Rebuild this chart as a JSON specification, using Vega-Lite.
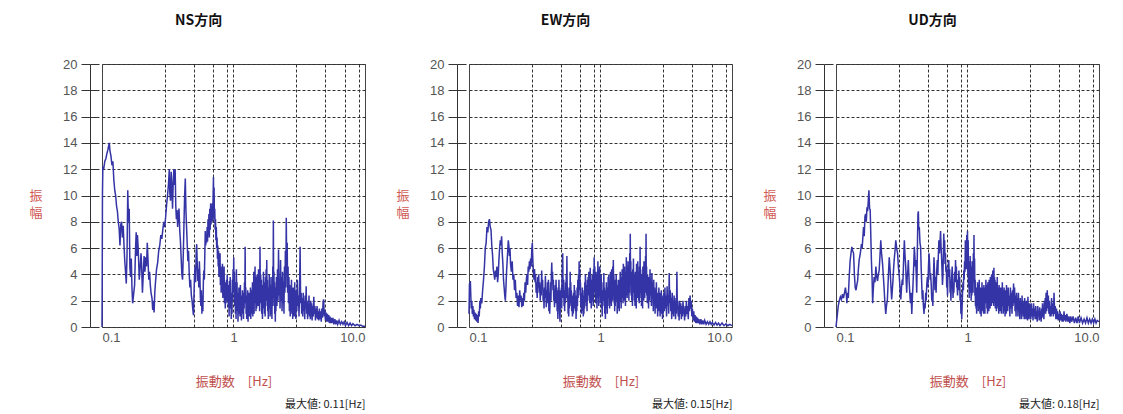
{
"$schema":"https://vega.github.io/schema/vega-lite/v6.json",
"background":"white",
"padding":{"left":28,"top":13,"right":5,"bottom":5},
"bounds":"flush",
"spacing":104,
"config":{
 "view":{"stroke":"#444","strokeWidth":1},
 "font":"Liberation Sans",
 "title":{"font":"Noto Sans CJK JP","fontSize":14,"fontWeight":"bold","color":"#111"}
},
"datasets":{
"NS":[{"f":0.1,"a":0},{"f":0.1004,"a":3.8},{"f":0.1008,"a":10},{"f":0.1015,"a":12.2},{"f":0.103,"a":12.0},{"f":0.105,"a":12.6},{"f":0.107,"a":12.8},{"f":0.109,"a":13.2},{"f":0.111,"a":13.5},{"f":0.1135,"a":14.0},{"f":0.115,"a":13.4},{"f":0.117,"a":13.0},{"f":0.119,"a":12.3},{"f":0.121,"a":12.6},{"f":0.123,"a":11.2},{"f":0.125,"a":10.4},{"f":0.127,"a":10.0},{"f":0.129,"a":9.2},{"f":0.131,"a":8.8},{"f":0.133,"a":8.0},{"f":0.135,"a":7.5},{"f":0.137,"a":6.2},{"f":0.139,"a":7.8},{"f":0.141,"a":8.0},{"f":0.143,"a":6.8},{"f":0.145,"a":7.7},{"f":0.147,"a":6.2},{"f":0.149,"a":5.0},{"f":0.151,"a":4.2},{"f":0.153,"a":3.3},{"f":0.155,"a":5.5},{"f":0.157,"a":10.4},{"f":0.159,"a":8.0},{"f":0.161,"a":9.0},{"f":0.163,"a":4.5},{"f":0.165,"a":3.8},{"f":0.167,"a":5.2},{"f":0.169,"a":3.0},{"f":0.171,"a":1.8},{"f":0.174,"a":2.5},{"f":0.177,"a":3.2},{"f":0.18,"a":6.0},{"f":0.182,"a":7.2},{"f":0.184,"a":5.4},{"f":0.186,"a":7.0},{"f":0.188,"a":6.2},{"f":0.19,"a":5.0},{"f":0.192,"a":3.6},{"f":0.195,"a":4.5},{"f":0.198,"a":5.6},{"f":0.2,"a":4.8},{"f":0.203,"a":2.6},{"f":0.206,"a":4.0},{"f":0.209,"a":5.4},{"f":0.212,"a":4.2},{"f":0.215,"a":5.3},{"f":0.218,"a":4.6},{"f":0.221,"a":6.4},{"f":0.224,"a":5.0},{"f":0.227,"a":3.6},{"f":0.23,"a":4.2},{"f":0.233,"a":3.2},{"f":0.236,"a":2.6},{"f":0.24,"a":2.2},{"f":0.243,"a":1.3},{"f":0.246,"a":2.0},{"f":0.249,"a":1.1},{"f":0.252,"a":2.6},{"f":0.256,"a":3.6},{"f":0.26,"a":4.4},{"f":0.265,"a":4.9},{"f":0.27,"a":5.8},{"f":0.275,"a":6.2},{"f":0.28,"a":7.0},{"f":0.285,"a":6.7},{"f":0.29,"a":7.4},{"f":0.295,"a":8.0},{"f":0.3,"a":7.6},{"f":0.305,"a":8.4},{"f":0.31,"a":9.3},{"f":0.315,"a":10.0},{"f":0.32,"a":10.8},{"f":0.325,"a":12.0},{"f":0.328,"a":10.2},{"f":0.332,"a":9.6},{"f":0.336,"a":11.8},{"f":0.34,"a":10.5},{"f":0.344,"a":9.0},{"f":0.348,"a":11.0},{"f":0.352,"a":12.0},{"f":0.356,"a":10.8},{"f":0.36,"a":12.0},{"f":0.364,"a":9.2},{"f":0.368,"a":8.2},{"f":0.372,"a":8.9},{"f":0.376,"a":7.6},{"f":0.38,"a":8.4},{"f":0.385,"a":9.0},{"f":0.39,"a":7.4},{"f":0.395,"a":6.5},{"f":0.4,"a":5.2},{"f":0.405,"a":4.0},{"f":0.41,"a":3.6},{"f":0.415,"a":5.5},{"f":0.42,"a":7.8},{"f":0.425,"a":10.0},{"f":0.43,"a":11.3},{"f":0.435,"a":8.8},{"f":0.44,"a":7.5},{"f":0.445,"a":6.2},{"f":0.45,"a":5.0},{"f":0.455,"a":5.8},{"f":0.46,"a":4.2},{"f":0.466,"a":3.0},{"f":0.472,"a":3.6},{"f":0.478,"a":2.4},{"f":0.484,"a":2.0},{"f":0.49,"a":1.4},{"f":0.496,"a":0.9},{"f":0.5,"a":2.2},{"f":0.505,"a":3.8},{"f":0.51,"a":4.6},{"f":0.515,"a":3.4},{"f":0.52,"a":5.6},{"f":0.525,"a":6.3},{"f":0.53,"a":4.8},{"f":0.535,"a":3.5},{"f":0.54,"a":4.4},{"f":0.545,"a":3.0},{"f":0.55,"a":5.0},{"f":0.555,"a":3.9},{"f":0.56,"a":2.2},{"f":0.565,"a":1.6},{"f":0.57,"a":2.8},{"f":0.575,"a":1.0},{"f":0.58,"a":2.4},{"f":0.585,"a":1.2},{"f":0.59,"a":3.4},{"f":0.595,"a":4.3},{"f":0.6,"a":3.6},{"f":0.605,"a":5.5},{"f":0.61,"a":7.3},{"f":0.615,"a":6.2},{"f":0.62,"a":7.0},{"f":0.625,"a":6.4},{"f":0.63,"a":7.6},{"f":0.635,"a":6.5},{"f":0.64,"a":8.2},{"f":0.645,"a":7.0},{"f":0.65,"a":8.6},{"f":0.655,"a":6.8},{"f":0.66,"a":9.0},{"f":0.665,"a":7.4},{"f":0.67,"a":9.4},{"f":0.675,"a":7.8},{"f":0.68,"a":9.0},{"f":0.685,"a":8.2},{"f":0.69,"a":9.4},{"f":0.695,"a":8.0},{"f":0.7,"a":10.0},{"f":0.704,"a":11.4},{"f":0.708,"a":9.2},{"f":0.712,"a":10.6},{"f":0.716,"a":8.2},{"f":0.72,"a":9.0},{"f":0.725,"a":7.4},{"f":0.73,"a":8.2},{"f":0.735,"a":6.6},{"f":0.74,"a":7.6},{"f":0.745,"a":6.0},{"f":0.75,"a":6.8},{"f":0.755,"a":5.2},{"f":0.76,"a":6.2},{"f":0.765,"a":4.6},{"f":0.77,"a":5.8},{"f":0.775,"a":3.8},{"f":0.78,"a":5.2},{"f":0.785,"a":4.0},{"f":0.79,"a":5.6},{"f":0.795,"a":3.2},{"f":0.8,"a":4.6},{"f":0.806,"a":2.6},{"f":0.812,"a":4.2},{"f":0.818,"a":3.0},{"f":0.824,"a":4.8},{"f":0.83,"a":2.2},{"f":0.836,"a":3.6},{"f":0.842,"a":2.4},{"f":0.848,"a":4.6},{"f":0.854,"a":1.8},{"f":0.86,"a":3.4},{"f":0.866,"a":1.4},{"f":0.872,"a":3.0},{"f":0.878,"a":1.8},{"f":0.884,"a":3.6},{"f":0.89,"a":2.0},{"f":0.896,"a":4.0},{"f":0.902,"a":2.4},{"f":0.908,"a":3.2},{"f":0.914,"a":1.5},{"f":0.92,"a":2.8},{"f":0.926,"a":0.8},{"f":0.932,"a":3.5},{"f":0.938,"a":2.0},{"f":0.944,"a":3.8},{"f":0.95,"a":1.4},{"f":0.956,"a":2.6},{"f":0.962,"a":0.6},{"f":0.968,"a":2.2},{"f":0.974,"a":1.0},{"f":0.98,"a":3.6},{"f":0.986,"a":2.0},{"f":0.992,"a":4.4},{"f":0.998,"a":2.6},{"f":1.004,"a":5.3},{"f":1.01,"a":3.0},{"f":1.016,"a":4.2},{"f":1.022,"a":1.6},{"f":1.028,"a":3.4},{"f":1.034,"a":1.0},{"f":1.04,"a":2.8},{"f":1.046,"a":0.6},{"f":1.052,"a":4.4},{"f":1.058,"a":2.2},{"f":1.064,"a":3.4},{"f":1.07,"a":1.2},{"f":1.076,"a":2.6},{"f":1.082,"a":0.4},{"f":1.088,"a":2.0},{"f":1.094,"a":1.0},{"f":1.1,"a":3.0},{"f":1.107,"a":1.4},{"f":1.114,"a":2.6},{"f":1.121,"a":0.8},{"f":1.128,"a":3.2},{"f":1.135,"a":1.6},{"f":1.142,"a":2.4},{"f":1.149,"a":0.5},{"f":1.156,"a":2.2},{"f":1.163,"a":1.0},{"f":1.17,"a":2.8},{"f":1.177,"a":1.2},{"f":1.184,"a":2.0},{"f":1.191,"a":0.6},{"f":1.198,"a":2.6},{"f":1.205,"a":1.4},{"f":1.212,"a":3.4},{"f":1.219,"a":1.8},{"f":1.226,"a":6.1},{"f":1.233,"a":2.0},{"f":1.24,"a":3.0},{"f":1.247,"a":1.0},{"f":1.254,"a":2.4},{"f":1.261,"a":0.6},{"f":1.268,"a":2.0},{"f":1.275,"a":1.2},{"f":1.282,"a":2.8},{"f":1.29,"a":0.4},{"f":1.298,"a":2.2},{"f":1.306,"a":1.0},{"f":1.314,"a":2.6},{"f":1.322,"a":0.8},{"f":1.33,"a":2.0},{"f":1.338,"a":1.4},{"f":1.346,"a":3.0},{"f":1.354,"a":0.6},{"f":1.362,"a":2.2},{"f":1.37,"a":1.0},{"f":1.378,"a":2.8},{"f":1.386,"a":1.4},{"f":1.394,"a":3.4},{"f":1.402,"a":0.8},{"f":1.41,"a":2.4},{"f":1.418,"a":1.6},{"f":1.426,"a":4.2},{"f":1.434,"a":1.0},{"f":1.442,"a":3.0},{"f":1.45,"a":1.8},{"f":1.458,"a":4.6},{"f":1.466,"a":2.0},{"f":1.474,"a":3.2},{"f":1.482,"a":1.2},{"f":1.49,"a":3.8},{"f":1.5,"a":1.4},{"f":1.51,"a":4.0},{"f":1.52,"a":2.2},{"f":1.53,"a":3.4},{"f":1.54,"a":1.6},{"f":1.55,"a":4.4},{"f":1.56,"a":2.0},{"f":1.57,"a":3.0},{"f":1.58,"a":1.2},{"f":1.59,"a":6.1},{"f":1.6,"a":2.6},{"f":1.61,"a":4.0},{"f":1.62,"a":1.8},{"f":1.63,"a":3.6},{"f":1.64,"a":1.0},{"f":1.65,"a":2.8},{"f":1.66,"a":0.6},{"f":1.67,"a":3.2},{"f":1.68,"a":1.4},{"f":1.69,"a":4.2},{"f":1.7,"a":2.0},{"f":1.71,"a":3.4},{"f":1.72,"a":1.0},{"f":1.73,"a":2.6},{"f":1.74,"a":0.8},{"f":1.75,"a":3.8},{"f":1.76,"a":1.6},{"f":1.77,"a":4.4},{"f":1.78,"a":2.0},{"f":1.79,"a":5.1},{"f":1.8,"a":2.4},{"f":1.81,"a":3.6},{"f":1.82,"a":1.2},{"f":1.83,"a":2.8},{"f":1.84,"a":0.6},{"f":1.85,"a":3.0},{"f":1.86,"a":1.4},{"f":1.87,"a":4.0},{"f":1.88,"a":1.8},{"f":1.89,"a":3.2},{"f":1.9,"a":0.8},{"f":1.91,"a":2.6},{"f":1.92,"a":1.4},{"f":1.93,"a":3.8},{"f":1.94,"a":1.0},{"f":1.95,"a":2.4},{"f":1.96,"a":0.6},{"f":1.97,"a":3.0},{"f":1.98,"a":1.6},{"f":1.99,"a":4.6},{"f":2.0,"a":2.2},{"f":2.01,"a":8.1},{"f":2.02,"a":3.0},{"f":2.03,"a":4.2},{"f":2.04,"a":1.6},{"f":2.05,"a":3.4},{"f":2.06,"a":1.0},{"f":2.07,"a":2.6},{"f":2.08,"a":0.4},{"f":2.09,"a":3.0},{"f":2.1,"a":1.2},{"f":2.12,"a":3.8},{"f":2.14,"a":1.6},{"f":2.16,"a":4.4},{"f":2.18,"a":2.0},{"f":2.2,"a":5.9},{"f":2.22,"a":2.4},{"f":2.24,"a":3.6},{"f":2.26,"a":1.4},{"f":2.28,"a":5.1},{"f":2.3,"a":2.0},{"f":2.32,"a":3.8},{"f":2.34,"a":1.2},{"f":2.36,"a":4.2},{"f":2.38,"a":1.8},{"f":2.4,"a":3.4},{"f":2.42,"a":1.0},{"f":2.44,"a":4.6},{"f":2.46,"a":2.6},{"f":2.48,"a":5.8},{"f":2.5,"a":3.0},{"f":2.52,"a":8.3},{"f":2.54,"a":4.0},{"f":2.56,"a":6.4},{"f":2.58,"a":2.6},{"f":2.6,"a":4.6},{"f":2.62,"a":1.8},{"f":2.64,"a":3.8},{"f":2.66,"a":1.2},{"f":2.68,"a":3.2},{"f":2.7,"a":0.8},{"f":2.72,"a":2.8},{"f":2.74,"a":1.4},{"f":2.76,"a":3.6},{"f":2.78,"a":1.0},{"f":2.8,"a":2.6},{"f":2.82,"a":0.6},{"f":2.84,"a":3.0},{"f":2.86,"a":1.2},{"f":2.88,"a":2.4},{"f":2.9,"a":0.8},{"f":2.92,"a":3.4},{"f":2.94,"a":1.4},{"f":2.96,"a":2.2},{"f":2.98,"a":0.6},{"f":3.0,"a":2.8},{"f":3.03,"a":1.2},{"f":3.06,"a":3.6},{"f":3.09,"a":1.6},{"f":3.12,"a":2.4},{"f":3.15,"a":0.8},{"f":3.18,"a":2.8},{"f":3.21,"a":6.1},{"f":3.24,"a":1.8},{"f":3.27,"a":2.6},{"f":3.3,"a":1.0},{"f":3.33,"a":2.2},{"f":3.36,"a":0.8},{"f":3.39,"a":2.6},{"f":3.42,"a":1.2},{"f":3.45,"a":2.0},{"f":3.48,"a":0.6},{"f":3.51,"a":2.4},{"f":3.54,"a":1.4},{"f":3.57,"a":3.1},{"f":3.6,"a":1.0},{"f":3.63,"a":2.0},{"f":3.66,"a":0.6},{"f":3.69,"a":1.8},{"f":3.72,"a":1.0},{"f":3.75,"a":2.4},{"f":3.78,"a":0.8},{"f":3.81,"a":1.6},{"f":3.84,"a":0.6},{"f":3.87,"a":2.0},{"f":3.9,"a":1.0},{"f":3.93,"a":1.8},{"f":3.96,"a":0.5},{"f":4.0,"a":1.6},{"f":4.04,"a":0.8},{"f":4.08,"a":2.3},{"f":4.12,"a":1.0},{"f":4.16,"a":1.6},{"f":4.2,"a":0.5},{"f":4.24,"a":1.4},{"f":4.28,"a":0.7},{"f":4.32,"a":1.6},{"f":4.36,"a":0.6},{"f":4.4,"a":1.2},{"f":4.45,"a":0.5},{"f":4.5,"a":1.4},{"f":4.55,"a":0.6},{"f":4.6,"a":1.2},{"f":4.65,"a":0.4},{"f":4.7,"a":1.4},{"f":4.75,"a":0.7},{"f":4.8,"a":1.9},{"f":4.85,"a":2.1},{"f":4.9,"a":0.8},{"f":4.95,"a":1.3},{"f":5.0,"a":0.5},{"f":5.06,"a":1.1},{"f":5.12,"a":0.4},{"f":5.18,"a":1.0},{"f":5.24,"a":0.4},{"f":5.3,"a":0.9},{"f":5.36,"a":0.3},{"f":5.42,"a":0.8},{"f":5.48,"a":0.3},{"f":5.54,"a":0.7},{"f":5.6,"a":0.3},{"f":5.7,"a":0.7},{"f":5.8,"a":0.2},{"f":5.9,"a":0.6},{"f":6.0,"a":0.2},{"f":6.1,"a":0.5},{"f":6.2,"a":0.2},{"f":6.35,"a":0.5},{"f":6.5,"a":0.2},{"f":6.65,"a":0.4},{"f":6.8,"a":0.2},{"f":6.95,"a":0.4},{"f":7.1,"a":0.1},{"f":7.3,"a":0.35},{"f":7.5,"a":0.1},{"f":7.7,"a":0.3},{"f":7.9,"a":0.1},{"f":8.1,"a":0.25},{"f":8.4,"a":0.1},{"f":8.7,"a":0.2},{"f":9.0,"a":0.1},{"f":9.3,"a":0.15},{"f":9.6,"a":0.05},{"f":10,"a":0.05}],
"EW":[{"f":0.1,"a":1.0},{"f":0.1008,"a":3.3},{"f":0.1016,"a":2.6},{"f":0.1024,"a":3.5},{"f":0.1032,"a":2.4},{"f":0.104,"a":1.4},{"f":0.105,"a":2.0},{"f":0.106,"a":1.0},{"f":0.107,"a":1.6},{"f":0.108,"a":0.8},{"f":0.109,"a":1.3},{"f":0.11,"a":0.6},{"f":0.1112,"a":1.1},{"f":0.1124,"a":0.5},{"f":0.1136,"a":1.0},{"f":0.1148,"a":0.4},{"f":0.116,"a":0.9},{"f":0.1172,"a":0.3},{"f":0.1184,"a":1.2},{"f":0.1196,"a":0.8},{"f":0.121,"a":2.0},{"f":0.122,"a":1.4},{"f":0.123,"a":2.2},{"f":0.125,"a":1.8},{"f":0.127,"a":2.8},{"f":0.129,"a":3.6},{"f":0.131,"a":4.6},{"f":0.133,"a":6.0},{"f":0.135,"a":6.4},{"f":0.137,"a":7.6},{"f":0.139,"a":7.2},{"f":0.141,"a":8.0},{"f":0.143,"a":8.2},{"f":0.145,"a":7.6},{"f":0.147,"a":7.4},{"f":0.149,"a":6.2},{"f":0.151,"a":5.5},{"f":0.153,"a":4.4},{"f":0.155,"a":4.0},{"f":0.157,"a":3.6},{"f":0.159,"a":4.3},{"f":0.161,"a":3.8},{"f":0.163,"a":4.6},{"f":0.165,"a":3.4},{"f":0.167,"a":4.0},{"f":0.169,"a":5.2},{"f":0.171,"a":6.0},{"f":0.173,"a":6.6},{"f":0.175,"a":6.2},{"f":0.177,"a":6.9},{"f":0.179,"a":5.6},{"f":0.181,"a":4.8},{"f":0.183,"a":3.6},{"f":0.185,"a":3.0},{"f":0.187,"a":2.4},{"f":0.189,"a":2.0},{"f":0.191,"a":3.0},{"f":0.193,"a":4.2},{"f":0.195,"a":5.0},{"f":0.197,"a":5.8},{"f":0.199,"a":6.6},{"f":0.201,"a":6.2},{"f":0.203,"a":5.4},{"f":0.205,"a":6.0},{"f":0.207,"a":4.8},{"f":0.21,"a":4.2},{"f":0.213,"a":5.0},{"f":0.216,"a":3.6},{"f":0.219,"a":4.0},{"f":0.222,"a":2.8},{"f":0.225,"a":3.6},{"f":0.228,"a":2.2},{"f":0.231,"a":2.6},{"f":0.234,"a":1.6},{"f":0.237,"a":2.4},{"f":0.24,"a":1.5},{"f":0.243,"a":2.8},{"f":0.246,"a":2.0},{"f":0.249,"a":2.4},{"f":0.252,"a":1.5},{"f":0.255,"a":2.2},{"f":0.258,"a":1.6},{"f":0.261,"a":2.6},{"f":0.264,"a":2.0},{"f":0.267,"a":3.4},{"f":0.27,"a":2.6},{"f":0.273,"a":3.6},{"f":0.276,"a":4.0},{"f":0.279,"a":3.2},{"f":0.282,"a":4.6},{"f":0.285,"a":4.2},{"f":0.288,"a":5.0},{"f":0.291,"a":4.4},{"f":0.294,"a":5.2},{"f":0.297,"a":4.6},{"f":0.3,"a":5.8},{"f":0.303,"a":6.4},{"f":0.306,"a":5.0},{"f":0.309,"a":4.2},{"f":0.312,"a":3.6},{"f":0.315,"a":4.4},{"f":0.318,"a":3.4},{"f":0.321,"a":4.0},{"f":0.324,"a":2.6},{"f":0.327,"a":3.4},{"f":0.33,"a":2.2},{"f":0.333,"a":3.8},{"f":0.336,"a":3.0},{"f":0.339,"a":4.0},{"f":0.342,"a":2.6},{"f":0.345,"a":3.4},{"f":0.348,"a":2.0},{"f":0.351,"a":3.2},{"f":0.354,"a":2.4},{"f":0.357,"a":4.3},{"f":0.36,"a":3.0},{"f":0.363,"a":3.6},{"f":0.366,"a":2.0},{"f":0.369,"a":2.8},{"f":0.372,"a":1.4},{"f":0.375,"a":3.0},{"f":0.378,"a":2.2},{"f":0.381,"a":3.9},{"f":0.384,"a":2.6},{"f":0.387,"a":1.5},{"f":0.39,"a":2.8},{"f":0.393,"a":1.8},{"f":0.396,"a":3.4},{"f":0.399,"a":2.4},{"f":0.402,"a":3.6},{"f":0.405,"a":1.2},{"f":0.408,"a":2.6},{"f":0.411,"a":1.0},{"f":0.414,"a":2.2},{"f":0.417,"a":3.4},{"f":0.42,"a":2.0},{"f":0.423,"a":4.0},{"f":0.426,"a":4.9},{"f":0.429,"a":3.6},{"f":0.432,"a":4.2},{"f":0.435,"a":2.8},{"f":0.438,"a":3.6},{"f":0.441,"a":2.0},{"f":0.444,"a":2.6},{"f":0.447,"a":1.5},{"f":0.45,"a":2.4},{"f":0.453,"a":3.2},{"f":0.456,"a":1.8},{"f":0.459,"a":3.6},{"f":0.462,"a":2.4},{"f":0.465,"a":3.0},{"f":0.468,"a":1.2},{"f":0.471,"a":2.2},{"f":0.474,"a":0.6},{"f":0.477,"a":2.8},{"f":0.48,"a":1.6},{"f":0.483,"a":3.6},{"f":0.486,"a":2.0},{"f":0.489,"a":1.0},{"f":0.492,"a":0.4},{"f":0.495,"a":1.8},{"f":0.498,"a":2.8},{"f":0.501,"a":1.5},{"f":0.504,"a":3.0},{"f":0.507,"a":1.4},{"f":0.51,"a":3.6},{"f":0.513,"a":4.4},{"f":0.516,"a":5.6},{"f":0.519,"a":3.4},{"f":0.522,"a":2.2},{"f":0.525,"a":3.6},{"f":0.528,"a":1.6},{"f":0.531,"a":2.6},{"f":0.534,"a":1.2},{"f":0.537,"a":2.8},{"f":0.54,"a":1.8},{"f":0.543,"a":3.4},{"f":0.546,"a":2.2},{"f":0.549,"a":4.0},{"f":0.552,"a":2.6},{"f":0.555,"a":5.4},{"f":0.558,"a":3.2},{"f":0.561,"a":2.0},{"f":0.564,"a":3.0},{"f":0.567,"a":1.0},{"f":0.57,"a":2.4},{"f":0.573,"a":0.8},{"f":0.576,"a":2.2},{"f":0.579,"a":1.4},{"f":0.582,"a":3.0},{"f":0.585,"a":1.6},{"f":0.588,"a":4.2},{"f":0.591,"a":2.6},{"f":0.594,"a":3.4},{"f":0.597,"a":1.8},{"f":0.6,"a":2.8},{"f":0.604,"a":1.2},{"f":0.608,"a":2.4},{"f":0.612,"a":0.8},{"f":0.616,"a":2.0},{"f":0.62,"a":1.0},{"f":0.624,"a":2.6},{"f":0.628,"a":1.4},{"f":0.632,"a":3.2},{"f":0.636,"a":1.8},{"f":0.64,"a":2.8},{"f":0.644,"a":1.2},{"f":0.648,"a":2.4},{"f":0.652,"a":0.6},{"f":0.656,"a":2.0},{"f":0.66,"a":1.2},{"f":0.664,"a":3.0},{"f":0.668,"a":1.6},{"f":0.672,"a":3.6},{"f":0.676,"a":2.2},{"f":0.68,"a":4.0},{"f":0.684,"a":2.8},{"f":0.688,"a":5.0},{"f":0.692,"a":3.2},{"f":0.696,"a":4.4},{"f":0.7,"a":2.4},{"f":0.704,"a":3.4},{"f":0.708,"a":1.6},{"f":0.712,"a":2.6},{"f":0.716,"a":1.0},{"f":0.72,"a":2.4},{"f":0.724,"a":1.2},{"f":0.728,"a":3.0},{"f":0.732,"a":1.6},{"f":0.736,"a":2.4},{"f":0.74,"a":0.8},{"f":0.744,"a":2.0},{"f":0.748,"a":1.0},{"f":0.752,"a":2.8},{"f":0.756,"a":1.4},{"f":0.76,"a":3.4},{"f":0.764,"a":2.0},{"f":0.768,"a":4.0},{"f":0.772,"a":2.6},{"f":0.776,"a":3.2},{"f":0.78,"a":1.6},{"f":0.785,"a":2.6},{"f":0.79,"a":1.2},{"f":0.795,"a":3.6},{"f":0.8,"a":2.0},{"f":0.805,"a":3.8},{"f":0.81,"a":2.4},{"f":0.815,"a":4.2},{"f":0.82,"a":2.8},{"f":0.825,"a":3.6},{"f":0.83,"a":1.8},{"f":0.835,"a":4.5},{"f":0.84,"a":2.6},{"f":0.845,"a":3.6},{"f":0.85,"a":1.4},{"f":0.855,"a":3.0},{"f":0.86,"a":2.0},{"f":0.865,"a":4.0},{"f":0.87,"a":2.4},{"f":0.875,"a":3.4},{"f":0.88,"a":1.6},{"f":0.885,"a":4.4},{"f":0.89,"a":2.8},{"f":0.895,"a":5.3},{"f":0.9,"a":3.0},{"f":0.905,"a":4.6},{"f":0.91,"a":2.4},{"f":0.915,"a":3.8},{"f":0.92,"a":1.8},{"f":0.925,"a":4.2},{"f":0.93,"a":2.6},{"f":0.935,"a":3.6},{"f":0.94,"a":1.4},{"f":0.945,"a":4.0},{"f":0.95,"a":2.2},{"f":0.955,"a":5.0},{"f":0.96,"a":3.0},{"f":0.965,"a":4.4},{"f":0.97,"a":1.6},{"f":0.975,"a":3.6},{"f":0.98,"a":2.4},{"f":0.985,"a":4.6},{"f":0.99,"a":2.8},{"f":0.995,"a":4.0},{"f":1.0,"a":1.8},{"f":1.006,"a":3.2},{"f":1.012,"a":4.0},{"f":1.018,"a":1.4},{"f":1.024,"a":2.8},{"f":1.03,"a":0.8},{"f":1.036,"a":2.6},{"f":1.042,"a":1.6},{"f":1.048,"a":3.4},{"f":1.054,"a":2.0},{"f":1.06,"a":4.1},{"f":1.066,"a":2.2},{"f":1.072,"a":3.0},{"f":1.078,"a":1.0},{"f":1.084,"a":2.4},{"f":1.09,"a":0.6},{"f":1.096,"a":2.8},{"f":1.102,"a":1.4},{"f":1.108,"a":3.4},{"f":1.114,"a":1.8},{"f":1.12,"a":2.6},{"f":1.126,"a":1.0},{"f":1.132,"a":3.0},{"f":1.138,"a":1.6},{"f":1.144,"a":3.8},{"f":1.15,"a":2.2},{"f":1.156,"a":4.0},{"f":1.162,"a":2.6},{"f":1.168,"a":3.4},{"f":1.174,"a":1.4},{"f":1.18,"a":3.0},{"f":1.186,"a":1.8},{"f":1.192,"a":4.2},{"f":1.198,"a":2.4},{"f":1.204,"a":3.6},{"f":1.21,"a":1.6},{"f":1.216,"a":4.4},{"f":1.222,"a":2.8},{"f":1.228,"a":3.6},{"f":1.234,"a":2.0},{"f":1.24,"a":4.6},{"f":1.246,"a":3.0},{"f":1.252,"a":5.1},{"f":1.258,"a":2.6},{"f":1.264,"a":4.0},{"f":1.27,"a":1.8},{"f":1.276,"a":3.4},{"f":1.282,"a":1.2},{"f":1.288,"a":3.0},{"f":1.294,"a":1.6},{"f":1.3,"a":3.6},{"f":1.308,"a":2.0},{"f":1.316,"a":4.0},{"f":1.324,"a":2.2},{"f":1.332,"a":3.2},{"f":1.34,"a":1.0},{"f":1.348,"a":2.8},{"f":1.356,"a":1.4},{"f":1.364,"a":3.6},{"f":1.372,"a":1.8},{"f":1.38,"a":3.0},{"f":1.388,"a":1.2},{"f":1.396,"a":3.6},{"f":1.404,"a":2.0},{"f":1.412,"a":4.2},{"f":1.42,"a":2.4},{"f":1.428,"a":3.4},{"f":1.436,"a":1.4},{"f":1.444,"a":3.8},{"f":1.452,"a":2.2},{"f":1.46,"a":4.4},{"f":1.468,"a":2.6},{"f":1.476,"a":3.6},{"f":1.484,"a":1.8},{"f":1.492,"a":4.8},{"f":1.5,"a":2.8},{"f":1.508,"a":4.0},{"f":1.516,"a":2.0},{"f":1.524,"a":4.6},{"f":1.532,"a":2.6},{"f":1.54,"a":3.6},{"f":1.548,"a":1.6},{"f":1.556,"a":4.2},{"f":1.564,"a":2.4},{"f":1.572,"a":5.3},{"f":1.58,"a":3.0},{"f":1.588,"a":4.6},{"f":1.596,"a":2.2},{"f":1.604,"a":4.0},{"f":1.612,"a":2.6},{"f":1.62,"a":5.0},{"f":1.628,"a":3.0},{"f":1.636,"a":4.4},{"f":1.644,"a":2.0},{"f":1.652,"a":3.8},{"f":1.66,"a":2.6},{"f":1.668,"a":5.6},{"f":1.676,"a":3.2},{"f":1.684,"a":7.1},{"f":1.692,"a":3.6},{"f":1.7,"a":5.0},{"f":1.71,"a":2.4},{"f":1.72,"a":4.2},{"f":1.73,"a":2.0},{"f":1.74,"a":3.6},{"f":1.75,"a":1.6},{"f":1.76,"a":4.4},{"f":1.77,"a":2.6},{"f":1.78,"a":5.2},{"f":1.79,"a":3.0},{"f":1.8,"a":4.0},{"f":1.81,"a":2.0},{"f":1.82,"a":3.4},{"f":1.83,"a":1.6},{"f":1.84,"a":4.2},{"f":1.85,"a":2.4},{"f":1.86,"a":3.6},{"f":1.87,"a":1.4},{"f":1.88,"a":4.8},{"f":1.89,"a":2.8},{"f":1.9,"a":4.0},{"f":1.91,"a":2.2},{"f":1.92,"a":5.0},{"f":1.93,"a":3.2},{"f":1.94,"a":4.2},{"f":1.95,"a":2.0},{"f":1.96,"a":3.6},{"f":1.97,"a":1.8},{"f":1.98,"a":4.6},{"f":1.99,"a":2.6},{"f":2.0,"a":6.1},{"f":2.01,"a":3.0},{"f":2.02,"a":4.4},{"f":2.03,"a":2.2},{"f":2.04,"a":3.8},{"f":2.05,"a":1.6},{"f":2.06,"a":4.0},{"f":2.07,"a":2.4},{"f":2.08,"a":3.4},{"f":2.09,"a":1.4},{"f":2.1,"a":4.6},{"f":2.11,"a":2.6},{"f":2.12,"a":3.6},{"f":2.13,"a":2.0},{"f":2.14,"a":5.0},{"f":2.15,"a":3.0},{"f":2.16,"a":4.2},{"f":2.17,"a":2.2},{"f":2.18,"a":3.8},{"f":2.19,"a":2.6},{"f":2.2,"a":5.4},{"f":2.21,"a":3.2},{"f":2.22,"a":7.1},{"f":2.23,"a":3.6},{"f":2.24,"a":4.6},{"f":2.25,"a":2.4},{"f":2.26,"a":3.6},{"f":2.27,"a":1.8},{"f":2.28,"a":4.0},{"f":2.29,"a":2.2},{"f":2.3,"a":3.2},{"f":2.32,"a":1.4},{"f":2.34,"a":3.8},{"f":2.36,"a":2.0},{"f":2.38,"a":4.4},{"f":2.4,"a":2.4},{"f":2.42,"a":3.6},{"f":2.44,"a":1.6},{"f":2.46,"a":4.1},{"f":2.48,"a":2.2},{"f":2.5,"a":3.4},{"f":2.52,"a":1.2},{"f":2.54,"a":3.6},{"f":2.56,"a":1.8},{"f":2.58,"a":3.0},{"f":2.6,"a":1.0},{"f":2.62,"a":2.8},{"f":2.64,"a":1.4},{"f":2.66,"a":3.4},{"f":2.68,"a":1.6},{"f":2.7,"a":2.6},{"f":2.72,"a":0.8},{"f":2.74,"a":2.4},{"f":2.76,"a":1.2},{"f":2.78,"a":3.0},{"f":2.8,"a":1.4},{"f":2.82,"a":2.6},{"f":2.84,"a":0.8},{"f":2.86,"a":2.2},{"f":2.88,"a":1.2},{"f":2.9,"a":2.8},{"f":2.92,"a":1.0},{"f":2.94,"a":2.4},{"f":2.96,"a":0.6},{"f":2.98,"a":2.0},{"f":3.0,"a":1.0},{"f":3.03,"a":2.6},{"f":3.06,"a":1.2},{"f":3.09,"a":3.0},{"f":3.12,"a":1.4},{"f":3.15,"a":2.4},{"f":3.18,"a":0.8},{"f":3.21,"a":3.1},{"f":3.24,"a":1.6},{"f":3.27,"a":2.4},{"f":3.3,"a":1.0},{"f":3.33,"a":4.1},{"f":3.36,"a":1.8},{"f":3.39,"a":2.8},{"f":3.42,"a":1.2},{"f":3.45,"a":2.2},{"f":3.48,"a":0.6},{"f":3.51,"a":2.6},{"f":3.54,"a":1.0},{"f":3.57,"a":2.0},{"f":3.6,"a":0.8},{"f":3.63,"a":2.4},{"f":3.66,"a":1.2},{"f":3.69,"a":1.8},{"f":3.72,"a":0.6},{"f":3.75,"a":2.2},{"f":3.78,"a":1.0},{"f":3.81,"a":4.2},{"f":3.84,"a":1.4},{"f":3.87,"a":2.0},{"f":3.9,"a":0.8},{"f":3.93,"a":1.6},{"f":3.96,"a":0.5},{"f":4.0,"a":2.0},{"f":4.04,"a":1.0},{"f":4.08,"a":1.8},{"f":4.12,"a":0.6},{"f":4.16,"a":1.6},{"f":4.2,"a":0.8},{"f":4.24,"a":2.0},{"f":4.28,"a":1.0},{"f":4.32,"a":1.4},{"f":4.36,"a":0.5},{"f":4.4,"a":1.6},{"f":4.45,"a":0.8},{"f":4.5,"a":2.0},{"f":4.55,"a":1.0},{"f":4.6,"a":1.6},{"f":4.65,"a":0.6},{"f":4.7,"a":2.2},{"f":4.75,"a":1.2},{"f":4.8,"a":2.4},{"f":4.85,"a":1.4},{"f":4.9,"a":2.0},{"f":4.95,"a":0.8},{"f":5.0,"a":1.4},{"f":5.06,"a":0.5},{"f":5.12,"a":1.2},{"f":5.18,"a":0.4},{"f":5.24,"a":0.9},{"f":5.3,"a":0.3},{"f":5.36,"a":0.8},{"f":5.42,"a":0.3},{"f":5.48,"a":0.7},{"f":5.54,"a":0.3},{"f":5.6,"a":0.6},{"f":5.7,"a":0.2},{"f":5.8,"a":0.6},{"f":5.9,"a":0.2},{"f":6.0,"a":0.5},{"f":6.1,"a":0.2},{"f":6.2,"a":0.5},{"f":6.35,"a":0.2},{"f":6.5,"a":0.4},{"f":6.65,"a":0.2},{"f":6.8,"a":0.4},{"f":6.95,"a":0.2},{"f":7.1,"a":0.35},{"f":7.3,"a":0.15},{"f":7.5,"a":0.35},{"f":7.7,"a":0.15},{"f":7.9,"a":0.3},{"f":8.1,"a":0.1},{"f":8.4,"a":0.3},{"f":8.7,"a":0.1},{"f":9.0,"a":0.25},{"f":9.3,"a":0.1},{"f":9.6,"a":0.2},{"f":10,"a":0.1}],
"UD":[{"f":0.1,"a":0},{"f":0.102,"a":0.8},{"f":0.104,"a":1.6},{"f":0.106,"a":2.0},{"f":0.108,"a":2.3},{"f":0.11,"a":2.1},{"f":0.112,"a":2.5},{"f":0.114,"a":2.2},{"f":0.116,"a":2.6},{"f":0.118,"a":3.0},{"f":0.12,"a":2.4},{"f":0.121,"a":1.8},{"f":0.122,"a":2.6},{"f":0.124,"a":2.2},{"f":0.126,"a":3.8},{"f":0.128,"a":5.0},{"f":0.13,"a":5.6},{"f":0.132,"a":6.1},{"f":0.134,"a":5.8},{"f":0.136,"a":5.6},{"f":0.138,"a":4.0},{"f":0.14,"a":3.0},{"f":0.142,"a":2.8},{"f":0.144,"a":3.2},{"f":0.146,"a":3.5},{"f":0.148,"a":4.4},{"f":0.15,"a":5.1},{"f":0.152,"a":5.4},{"f":0.154,"a":5.8},{"f":0.156,"a":6.3},{"f":0.158,"a":6.0},{"f":0.16,"a":6.8},{"f":0.162,"a":7.6},{"f":0.164,"a":6.9},{"f":0.166,"a":8.4},{"f":0.168,"a":8.6},{"f":0.17,"a":8.0},{"f":0.172,"a":9.1},{"f":0.174,"a":8.8},{"f":0.176,"a":9.6},{"f":0.178,"a":10.4},{"f":0.18,"a":9.0},{"f":0.182,"a":8.9},{"f":0.184,"a":6.9},{"f":0.186,"a":5.0},{"f":0.188,"a":3.8},{"f":0.19,"a":1.8},{"f":0.192,"a":2.8},{"f":0.195,"a":3.8},{"f":0.198,"a":3.4},{"f":0.201,"a":4.6},{"f":0.204,"a":3.8},{"f":0.207,"a":3.5},{"f":0.21,"a":4.0},{"f":0.213,"a":4.3},{"f":0.216,"a":5.4},{"f":0.219,"a":6.6},{"f":0.222,"a":5.6},{"f":0.226,"a":4.8},{"f":0.229,"a":3.9},{"f":0.232,"a":3.0},{"f":0.235,"a":2.0},{"f":0.239,"a":1.0},{"f":0.242,"a":1.6},{"f":0.246,"a":2.1},{"f":0.25,"a":3.8},{"f":0.254,"a":5.3},{"f":0.258,"a":4.3},{"f":0.262,"a":3.0},{"f":0.265,"a":2.1},{"f":0.268,"a":2.8},{"f":0.271,"a":3.5},{"f":0.274,"a":4.4},{"f":0.277,"a":5.1},{"f":0.281,"a":5.8},{"f":0.285,"a":6.6},{"f":0.289,"a":6.0},{"f":0.294,"a":5.6},{"f":0.298,"a":4.6},{"f":0.303,"a":3.8},{"f":0.307,"a":2.9},{"f":0.311,"a":2.1},{"f":0.315,"a":3.0},{"f":0.319,"a":3.6},{"f":0.322,"a":3.2},{"f":0.325,"a":4.3},{"f":0.328,"a":5.6},{"f":0.331,"a":6.6},{"f":0.335,"a":5.4},{"f":0.339,"a":4.6},{"f":0.342,"a":3.4},{"f":0.345,"a":2.6},{"f":0.348,"a":3.8},{"f":0.352,"a":4.4},{"f":0.355,"a":5.1},{"f":0.358,"a":4.0},{"f":0.362,"a":3.0},{"f":0.365,"a":2.4},{"f":0.368,"a":1.8},{"f":0.372,"a":2.6},{"f":0.377,"a":1.0},{"f":0.381,"a":2.2},{"f":0.385,"a":3.2},{"f":0.388,"a":4.1},{"f":0.391,"a":5.0},{"f":0.394,"a":6.1},{"f":0.398,"a":5.4},{"f":0.401,"a":4.6},{"f":0.404,"a":5.1},{"f":0.408,"a":3.8},{"f":0.411,"a":2.6},{"f":0.414,"a":4.4},{"f":0.417,"a":6.8},{"f":0.42,"a":8.6},{"f":0.423,"a":8.8},{"f":0.426,"a":7.4},{"f":0.43,"a":7.6},{"f":0.435,"a":6.4},{"f":0.44,"a":6.1},{"f":0.444,"a":4.6},{"f":0.449,"a":3.2},{"f":0.453,"a":2.1},{"f":0.458,"a":2.8},{"f":0.462,"a":1.6},{"f":0.467,"a":1.0},{"f":0.471,"a":1.8},{"f":0.476,"a":1.4},{"f":0.481,"a":2.6},{"f":0.485,"a":2.0},{"f":0.49,"a":3.2},{"f":0.495,"a":3.8},{"f":0.5,"a":3.0},{"f":0.505,"a":4.6},{"f":0.51,"a":5.6},{"f":0.515,"a":4.8},{"f":0.52,"a":3.6},{"f":0.524,"a":4.1},{"f":0.53,"a":3.2},{"f":0.535,"a":2.0},{"f":0.54,"a":2.6},{"f":0.545,"a":1.6},{"f":0.55,"a":3.6},{"f":0.556,"a":5.3},{"f":0.561,"a":4.2},{"f":0.566,"a":2.8},{"f":0.572,"a":3.8},{"f":0.577,"a":2.6},{"f":0.583,"a":4.2},{"f":0.59,"a":5.1},{"f":0.595,"a":4.0},{"f":0.6,"a":5.4},{"f":0.606,"a":6.6},{"f":0.612,"a":5.6},{"f":0.618,"a":6.4},{"f":0.624,"a":7.3},{"f":0.629,"a":6.2},{"f":0.635,"a":5.3},{"f":0.64,"a":4.4},{"f":0.645,"a":3.2},{"f":0.65,"a":3.8},{"f":0.655,"a":5.4},{"f":0.66,"a":7.1},{"f":0.665,"a":6.0},{"f":0.67,"a":6.6},{"f":0.675,"a":4.8},{"f":0.68,"a":5.6},{"f":0.685,"a":4.2},{"f":0.69,"a":4.6},{"f":0.695,"a":3.0},{"f":0.7,"a":3.5},{"f":0.705,"a":2.4},{"f":0.71,"a":4.0},{"f":0.715,"a":4.6},{"f":0.72,"a":5.1},{"f":0.726,"a":3.8},{"f":0.732,"a":4.4},{"f":0.737,"a":2.6},{"f":0.743,"a":3.0},{"f":0.748,"a":2.0},{"f":0.754,"a":3.4},{"f":0.76,"a":4.0},{"f":0.765,"a":4.6},{"f":0.77,"a":3.4},{"f":0.776,"a":2.2},{"f":0.781,"a":3.0},{"f":0.787,"a":2.6},{"f":0.793,"a":3.6},{"f":0.799,"a":4.2},{"f":0.805,"a":3.4},{"f":0.811,"a":5.1},{"f":0.817,"a":4.0},{"f":0.823,"a":4.6},{"f":0.828,"a":3.0},{"f":0.834,"a":3.3},{"f":0.84,"a":2.4},{"f":0.847,"a":3.6},{"f":0.853,"a":2.8},{"f":0.86,"a":4.3},{"f":0.866,"a":3.2},{"f":0.872,"a":3.8},{"f":0.878,"a":2.0},{"f":0.885,"a":2.6},{"f":0.891,"a":1.0},{"f":0.897,"a":1.8},{"f":0.904,"a":0.6},{"f":0.91,"a":1.5},{"f":0.917,"a":2.6},{"f":0.924,"a":3.4},{"f":0.931,"a":2.8},{"f":0.937,"a":4.3},{"f":0.943,"a":3.6},{"f":0.95,"a":5.0},{"f":0.957,"a":4.2},{"f":0.963,"a":6.6},{"f":0.969,"a":5.2},{"f":0.975,"a":6.0},{"f":0.981,"a":4.4},{"f":0.987,"a":7.0},{"f":0.993,"a":5.6},{"f":1.0,"a":7.3},{"f":1.006,"a":4.0},{"f":1.012,"a":6.6},{"f":1.018,"a":3.0},{"f":1.024,"a":5.0},{"f":1.03,"a":2.2},{"f":1.036,"a":4.4},{"f":1.042,"a":2.6},{"f":1.048,"a":5.4},{"f":1.054,"a":3.0},{"f":1.06,"a":4.6},{"f":1.066,"a":2.0},{"f":1.072,"a":3.6},{"f":1.078,"a":2.4},{"f":1.084,"a":5.0},{"f":1.09,"a":3.2},{"f":1.096,"a":4.8},{"f":1.102,"a":2.6},{"f":1.108,"a":5.6},{"f":1.114,"a":3.4},{"f":1.12,"a":7.0},{"f":1.126,"a":3.8},{"f":1.132,"a":5.2},{"f":1.138,"a":2.4},{"f":1.144,"a":3.6},{"f":1.15,"a":1.6},{"f":1.156,"a":3.0},{"f":1.162,"a":1.4},{"f":1.168,"a":2.6},{"f":1.174,"a":1.0},{"f":1.18,"a":3.0},{"f":1.186,"a":1.8},{"f":1.192,"a":3.4},{"f":1.198,"a":1.6},{"f":1.204,"a":2.8},{"f":1.21,"a":1.2},{"f":1.216,"a":3.2},{"f":1.222,"a":2.0},{"f":1.228,"a":3.6},{"f":1.234,"a":1.4},{"f":1.24,"a":2.6},{"f":1.246,"a":1.0},{"f":1.252,"a":3.0},{"f":1.258,"a":1.6},{"f":1.264,"a":2.8},{"f":1.27,"a":0.8},{"f":1.276,"a":2.4},{"f":1.282,"a":1.4},{"f":1.288,"a":3.4},{"f":1.294,"a":1.8},{"f":1.3,"a":3.0},{"f":1.308,"a":1.2},{"f":1.316,"a":2.6},{"f":1.324,"a":1.0},{"f":1.332,"a":3.2},{"f":1.34,"a":1.6},{"f":1.348,"a":2.8},{"f":1.356,"a":1.0},{"f":1.364,"a":3.0},{"f":1.372,"a":1.8},{"f":1.38,"a":3.6},{"f":1.388,"a":2.0},{"f":1.396,"a":3.2},{"f":1.404,"a":1.4},{"f":1.412,"a":2.8},{"f":1.42,"a":1.0},{"f":1.428,"a":3.4},{"f":1.436,"a":1.8},{"f":1.444,"a":3.0},{"f":1.452,"a":1.2},{"f":1.46,"a":3.6},{"f":1.468,"a":2.0},{"f":1.476,"a":3.0},{"f":1.484,"a":1.4},{"f":1.492,"a":3.8},{"f":1.5,"a":2.2},{"f":1.508,"a":3.4},{"f":1.516,"a":1.6},{"f":1.524,"a":4.0},{"f":1.532,"a":2.4},{"f":1.54,"a":3.6},{"f":1.548,"a":1.8},{"f":1.556,"a":4.3},{"f":1.564,"a":2.6},{"f":1.572,"a":3.4},{"f":1.58,"a":1.6},{"f":1.588,"a":4.5},{"f":1.596,"a":2.4},{"f":1.604,"a":3.8},{"f":1.612,"a":1.8},{"f":1.62,"a":3.6},{"f":1.628,"a":1.4},{"f":1.636,"a":3.0},{"f":1.644,"a":1.6},{"f":1.652,"a":3.4},{"f":1.66,"a":1.2},{"f":1.668,"a":2.8},{"f":1.676,"a":1.6},{"f":1.684,"a":3.8},{"f":1.692,"a":2.0},{"f":1.7,"a":3.0},{"f":1.71,"a":1.4},{"f":1.72,"a":2.8},{"f":1.73,"a":1.0},{"f":1.74,"a":3.2},{"f":1.75,"a":1.8},{"f":1.76,"a":3.0},{"f":1.77,"a":1.2},{"f":1.78,"a":2.6},{"f":1.79,"a":1.4},{"f":1.8,"a":3.0},{"f":1.81,"a":1.0},{"f":1.82,"a":2.8},{"f":1.83,"a":1.6},{"f":1.84,"a":3.4},{"f":1.85,"a":2.0},{"f":1.86,"a":2.8},{"f":1.87,"a":1.0},{"f":1.88,"a":2.4},{"f":1.89,"a":1.4},{"f":1.9,"a":3.0},{"f":1.91,"a":1.2},{"f":1.92,"a":2.6},{"f":1.93,"a":0.8},{"f":1.94,"a":2.8},{"f":1.95,"a":1.6},{"f":1.96,"a":2.4},{"f":1.97,"a":1.0},{"f":1.98,"a":3.2},{"f":1.99,"a":1.8},{"f":2.0,"a":2.6},{"f":2.02,"a":1.2},{"f":2.04,"a":3.0},{"f":2.06,"a":1.6},{"f":2.08,"a":2.4},{"f":2.1,"a":0.8},{"f":2.12,"a":3.0},{"f":2.14,"a":1.4},{"f":2.16,"a":2.6},{"f":2.18,"a":1.0},{"f":2.2,"a":2.8},{"f":2.22,"a":1.6},{"f":2.24,"a":3.3},{"f":2.26,"a":1.8},{"f":2.28,"a":3.0},{"f":2.3,"a":1.2},{"f":2.32,"a":2.4},{"f":2.34,"a":0.8},{"f":2.36,"a":2.6},{"f":2.38,"a":1.4},{"f":2.4,"a":2.2},{"f":2.42,"a":0.8},{"f":2.44,"a":2.6},{"f":2.46,"a":1.2},{"f":2.48,"a":2.0},{"f":2.5,"a":0.6},{"f":2.52,"a":2.2},{"f":2.54,"a":1.0},{"f":2.56,"a":1.8},{"f":2.58,"a":0.6},{"f":2.6,"a":2.4},{"f":2.62,"a":1.0},{"f":2.64,"a":2.0},{"f":2.66,"a":0.8},{"f":2.68,"a":1.8},{"f":2.7,"a":0.6},{"f":2.72,"a":2.2},{"f":2.74,"a":1.2},{"f":2.76,"a":1.8},{"f":2.78,"a":0.6},{"f":2.8,"a":2.0},{"f":2.82,"a":1.0},{"f":2.84,"a":1.6},{"f":2.86,"a":0.5},{"f":2.88,"a":2.3},{"f":2.9,"a":1.0},{"f":2.92,"a":1.6},{"f":2.94,"a":0.6},{"f":2.96,"a":1.8},{"f":2.98,"a":0.8},{"f":3.0,"a":1.6},{"f":3.03,"a":0.6},{"f":3.06,"a":1.8},{"f":3.09,"a":0.8},{"f":3.12,"a":1.4},{"f":3.15,"a":0.5},{"f":3.18,"a":1.8},{"f":3.21,"a":0.8},{"f":3.24,"a":1.4},{"f":3.27,"a":0.6},{"f":3.3,"a":1.6},{"f":3.33,"a":0.6},{"f":3.36,"a":1.2},{"f":3.39,"a":0.4},{"f":3.42,"a":1.6},{"f":3.45,"a":0.8},{"f":3.48,"a":1.2},{"f":3.51,"a":0.5},{"f":3.54,"a":1.5},{"f":3.57,"a":0.6},{"f":3.6,"a":1.2},{"f":3.63,"a":0.4},{"f":3.66,"a":1.4},{"f":3.69,"a":0.7},{"f":3.72,"a":1.8},{"f":3.75,"a":0.8},{"f":3.78,"a":1.4},{"f":3.81,"a":0.6},{"f":3.84,"a":2.0},{"f":3.87,"a":1.0},{"f":3.9,"a":2.2},{"f":3.93,"a":1.0},{"f":3.96,"a":2.6},{"f":4.0,"a":1.2},{"f":4.04,"a":2.8},{"f":4.08,"a":1.4},{"f":4.12,"a":2.4},{"f":4.16,"a":1.0},{"f":4.2,"a":2.0},{"f":4.24,"a":0.8},{"f":4.28,"a":1.6},{"f":4.32,"a":0.8},{"f":4.36,"a":2.2},{"f":4.4,"a":1.0},{"f":4.45,"a":1.8},{"f":4.5,"a":0.8},{"f":4.55,"a":2.6},{"f":4.6,"a":1.0},{"f":4.65,"a":1.6},{"f":4.7,"a":0.6},{"f":4.75,"a":1.4},{"f":4.8,"a":0.6},{"f":4.85,"a":1.2},{"f":4.9,"a":0.5},{"f":4.95,"a":1.0},{"f":5.0,"a":0.5},{"f":5.06,"a":1.2},{"f":5.12,"a":0.5},{"f":5.18,"a":1.0},{"f":5.24,"a":0.4},{"f":5.3,"a":0.9},{"f":5.36,"a":0.4},{"f":5.42,"a":1.2},{"f":5.48,"a":0.5},{"f":5.54,"a":0.9},{"f":5.6,"a":0.4},{"f":5.7,"a":1.0},{"f":5.8,"a":0.4},{"f":5.9,"a":0.8},{"f":6.0,"a":0.3},{"f":6.1,"a":0.8},{"f":6.2,"a":0.4},{"f":6.35,"a":0.8},{"f":6.5,"a":0.3},{"f":6.65,"a":0.7},{"f":6.8,"a":0.3},{"f":6.95,"a":0.8},{"f":7.1,"a":0.3},{"f":7.3,"a":0.7},{"f":7.5,"a":0.3},{"f":7.7,"a":0.6},{"f":7.9,"a":0.3},{"f":8.1,"a":0.7},{"f":8.3,"a":0.3},{"f":8.5,"a":0.6},{"f":8.7,"a":0.3},{"f":8.9,"a":0.6},{"f":9.1,"a":0.3},{"f":9.3,"a":0.6},{"f":9.5,"a":0.3},{"f":9.7,"a":0.5},{"f":10,"a":0.4}]
},
"hconcat":[
 {"title":{"text":"NS方向","frame":"bounds","anchor":"middle","offset":30},
  "width":263,"height":263,"data":{"name":"NS"},
  "resolve":{"axis":{"x":"independent","y":"independent"}},
  "layer":[
   {"mark":{"type":"line","strokeOpacity":0},
    "encoding":{
     "x":{"field":"f","type":"quantitative","scale":{"type":"log","domain":[0.1,10],"nice":false},
      "axis":{"orient":"bottom","values":[0.3,0.5,0.7,0.9,1,3,5,7,9],"labels":false,"ticks":false,"domain":false,"grid":true,"gridColor":"#333","gridDash":[3,2],"gridWidth":1,"title":"最大値:   0.11[Hz]","titleFont":"Noto Sans CJK JP","titleFontSize":11,"titleFontWeight":"normal","titleColor":"#222","titleAnchor":"end","titlePadding":71}},
     "y":{"field":"a","type":"quantitative","scale":{"domain":[0,20],"nice":false},
      "axis":{"orient":"left","values":[0,2,4,6,8,10,12,14,16,18,20],"offset":3,"tickSize":9,"tickColor":"#333","labels":false,"domain":false,"grid":false,"title":null}}}},
   {"mark":{"type":"line","color":"#3434a6","strokeWidth":1.5},
    "encoding":{
     "x":{"field":"f","type":"quantitative","scale":{"type":"log","domain":[0.1,10],"nice":false},
      "axis":{"orient":"bottom","values":[0.1,1,10],"labelExpr":"datum.value >= 10 ? '10.0' : (datum.value >= 1 ? '1' : '0.1')","ticks":false,"domain":false,"grid":false,"labelFontSize":13,"labelColor":"#555","labelPadding":4,"title":"振動数　[Hz]","titleFont":"Noto Sans CJK JP","titleFontSize":13,"titleFontWeight":"normal","titleColor":"#c0504d","titlePadding":31}},
     "y":{"field":"a","type":"quantitative","scale":{"domain":[0,20],"nice":false},
      "axis":{"orient":"left","values":[0,2,4,6,8,10,12,14,16,18,20],"offset":12,"tickSize":9,"tickColor":"#333","domainColor":"#333","labelFontSize":13,"labelColor":"#555","labelPadding":4,"grid":true,"gridColor":"#333","gridDash":[3,2],"gridWidth":1,"title":["振","幅"],"titleAngle":0,"titleAlign":"center","titleBaseline":"middle","titleFont":"Noto Sans CJK JP","titleFontSize":13,"titleFontWeight":"normal","titleColor":"#d05a55","titleLineHeight":17,"titlePadding":10}}}}
  ]},
 {"title":{"text":"EW方向","frame":"bounds","anchor":"middle","offset":30},
  "width":263,"height":263,"data":{"name":"EW"},
  "resolve":{"axis":{"x":"independent","y":"independent"}},
  "layer":[
   {"mark":{"type":"line","strokeOpacity":0},
    "encoding":{
     "x":{"field":"f","type":"quantitative","scale":{"type":"log","domain":[0.1,10],"nice":false},
      "axis":{"orient":"bottom","values":[0.3,0.5,0.7,0.9,1,3,5,7,9],"labels":false,"ticks":false,"domain":false,"grid":true,"gridColor":"#333","gridDash":[3,2],"gridWidth":1,"title":"最大値:   0.15[Hz]","titleFont":"Noto Sans CJK JP","titleFontSize":11,"titleFontWeight":"normal","titleColor":"#222","titleAnchor":"end","titlePadding":71}},
     "y":{"field":"a","type":"quantitative","scale":{"domain":[0,20],"nice":false},
      "axis":{"orient":"left","values":[0,2,4,6,8,10,12,14,16,18,20],"offset":3,"tickSize":9,"tickColor":"#333","labels":false,"domain":false,"grid":false,"title":null}}}},
   {"mark":{"type":"line","color":"#3434a6","strokeWidth":1.5},
    "encoding":{
     "x":{"field":"f","type":"quantitative","scale":{"type":"log","domain":[0.1,10],"nice":false},
      "axis":{"orient":"bottom","values":[0.1,1,10],"labelExpr":"datum.value >= 10 ? '10.0' : (datum.value >= 1 ? '1' : '0.1')","ticks":false,"domain":false,"grid":false,"labelFontSize":13,"labelColor":"#555","labelPadding":4,"title":"振動数　[Hz]","titleFont":"Noto Sans CJK JP","titleFontSize":13,"titleFontWeight":"normal","titleColor":"#c0504d","titlePadding":31}},
     "y":{"field":"a","type":"quantitative","scale":{"domain":[0,20],"nice":false},
      "axis":{"orient":"left","values":[0,2,4,6,8,10,12,14,16,18,20],"offset":12,"tickSize":9,"tickColor":"#333","domainColor":"#333","labelFontSize":13,"labelColor":"#555","labelPadding":4,"grid":true,"gridColor":"#333","gridDash":[3,2],"gridWidth":1,"title":["振","幅"],"titleAngle":0,"titleAlign":"center","titleBaseline":"middle","titleFont":"Noto Sans CJK JP","titleFontSize":13,"titleFontWeight":"normal","titleColor":"#d05a55","titleLineHeight":17,"titlePadding":10}}}}
  ]},
 {"title":{"text":"UD方向","frame":"bounds","anchor":"middle","offset":30},
  "width":263,"height":263,"data":{"name":"UD"},
  "resolve":{"axis":{"x":"independent","y":"independent"}},
  "layer":[
   {"mark":{"type":"line","strokeOpacity":0},
    "encoding":{
     "x":{"field":"f","type":"quantitative","scale":{"type":"log","domain":[0.1,10],"nice":false},
      "axis":{"orient":"bottom","values":[0.3,0.5,0.7,0.9,1,3,5,7,9],"labels":false,"ticks":false,"domain":false,"grid":true,"gridColor":"#333","gridDash":[3,2],"gridWidth":1,"title":"最大値:   0.18[Hz]","titleFont":"Noto Sans CJK JP","titleFontSize":11,"titleFontWeight":"normal","titleColor":"#222","titleAnchor":"end","titlePadding":71}},
     "y":{"field":"a","type":"quantitative","scale":{"domain":[0,20],"nice":false},
      "axis":{"orient":"left","values":[0,2,4,6,8,10,12,14,16,18,20],"offset":3,"tickSize":9,"tickColor":"#333","labels":false,"domain":false,"grid":false,"title":null}}}},
   {"mark":{"type":"line","color":"#3434a6","strokeWidth":1.5},
    "encoding":{
     "x":{"field":"f","type":"quantitative","scale":{"type":"log","domain":[0.1,10],"nice":false},
      "axis":{"orient":"bottom","values":[0.1,1,10],"labelExpr":"datum.value >= 10 ? '10.0' : (datum.value >= 1 ? '1' : '0.1')","ticks":false,"domain":false,"grid":false,"labelFontSize":13,"labelColor":"#555","labelPadding":4,"title":"振動数　[Hz]","titleFont":"Noto Sans CJK JP","titleFontSize":13,"titleFontWeight":"normal","titleColor":"#c0504d","titlePadding":31}},
     "y":{"field":"a","type":"quantitative","scale":{"domain":[0,20],"nice":false},
      "axis":{"orient":"left","values":[0,2,4,6,8,10,12,14,16,18,20],"offset":12,"tickSize":9,"tickColor":"#333","domainColor":"#333","labelFontSize":13,"labelColor":"#555","labelPadding":4,"grid":true,"gridColor":"#333","gridDash":[3,2],"gridWidth":1,"title":["振","幅"],"titleAngle":0,"titleAlign":"center","titleBaseline":"middle","titleFont":"Noto Sans CJK JP","titleFontSize":13,"titleFontWeight":"normal","titleColor":"#d05a55","titleLineHeight":17,"titlePadding":10}}}}
  ]}
]
}
